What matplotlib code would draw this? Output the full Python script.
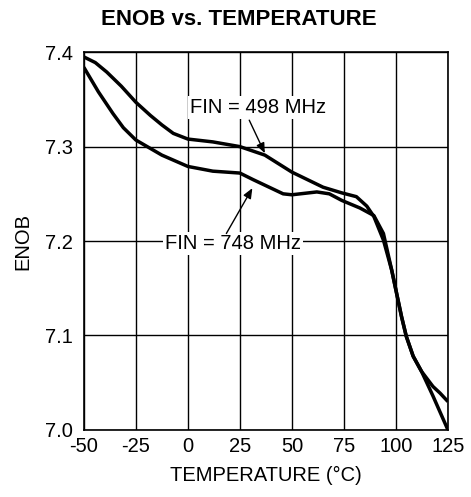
# ENOB vs temperature chart
import matplotlib
matplotlib.use("Agg")
import matplotlib.pyplot as plt
# --------------------------------------------------------------

# data
temp_498 = [-50, -44.5, -39, -32, -25, -18, -12.5, -7, 0, 12, 25, 37, 50, 65, 74, 81, 86,
            89.4, 94, 98, 100.3, 102.7, 105, 108.3, 112.3, 117.8, 121.2, 125]
enob_498 = [7.395, 7.389, 7.379, 7.364, 7.347, 7.333, 7.323, 7.314, 7.308, 7.305, 7.300,
            7.291, 7.273, 7.257, 7.251, 7.247, 7.237, 7.226, 7.201,
            7.169, 7.145, 7.120, 7.099, 7.078, 7.062, 7.046, 7.039, 7.030]

temp_748 = [-50, -43, -36, -31, -25, -12.5, 0, 12, 25, 31.4, 45.8, 50, 62, 68, 74, 82.7,
            89.4, 94, 98, 100.3, 102.7, 105, 108.3, 112.3, 117.8, 125]
enob_748 = [7.384, 7.358, 7.335, 7.320, 7.307, 7.291, 7.279, 7.274, 7.272, 7.265, 7.250,
            7.249, 7.252, 7.250, 7.243, 7.235, 7.227, 7.208,
            7.169, 7.145, 7.120, 7.099, 7.078, 7.062, 7.036, 7.000]

x_ticks = [-50, -25, 0, 25, 50, 75, 100, 125]
y_ticks = [7.0, 7.1, 7.2, 7.3, 7.4]
# --------------------------------------------------------------

plt.rcParams["font.family"] = ["Liberation Sans", "DejaVu Sans"]

fig = plt.figure(figsize=(4.71, 4.97), dpi=100)
ax = fig.add_axes([0.178, 0.135, 0.773, 0.760])

# curves
ax.plot(temp_498, enob_498, color="black", linewidth=2.5, solid_capstyle="butt")
ax.plot(temp_748, enob_748, color="black", linewidth=2.5, solid_capstyle="butt")

# axes and grid
ax.set_xlim(-50, 125)
ax.set_ylim(7.0, 7.4)
ax.set_xticks(x_ticks)
ax.set_yticks(y_ticks)
ax.set_xticklabels([str(t) for t in x_ticks])
ax.set_yticklabels(["%.1f" % t for t in y_ticks])
ax.tick_params(axis="x", length=0, labelsize=14.5, pad=5)
ax.tick_params(axis="y", length=0, labelsize=14.5, pad=8)
ax.grid(True, color="black", linewidth=1.0)
for s in ax.spines.values():
  s.set_linewidth(1.2)

# labels
fig.text(0.506, 0.961, "ENOB vs. TEMPERATURE", ha="center", va="center",
         fontsize=16, fontweight="bold")
ax.set_xlabel("TEMPERATURE (°C)", fontsize=14.5, labelpad=7)
ax.set_ylabel("ENOB", fontsize=14.5, labelpad=9)

# annotations
box = dict(boxstyle="square,pad=0.1", fc="white", ec="none")
arrow = dict(arrowstyle="-|>,head_length=0.6,head_width=0.25", color="black",
             linewidth=1.0, shrinkA=0, shrinkB=0)
ax.text(1, 7.341, "FIN = 498 MHz", fontsize=14.5, ha="left", va="center", bbox=box)
ax.annotate("", xy=(37, 7.293), xytext=(29.5, 7.328), arrowprops=arrow)
ax.text(-11, 7.197, "FIN = 748 MHz", fontsize=14.5, ha="left", va="center", bbox=box)
ax.annotate("", xy=(31, 7.256), xytext=(18.5, 7.208), arrowprops=arrow)

fig.savefig("out.png", dpi=100)
